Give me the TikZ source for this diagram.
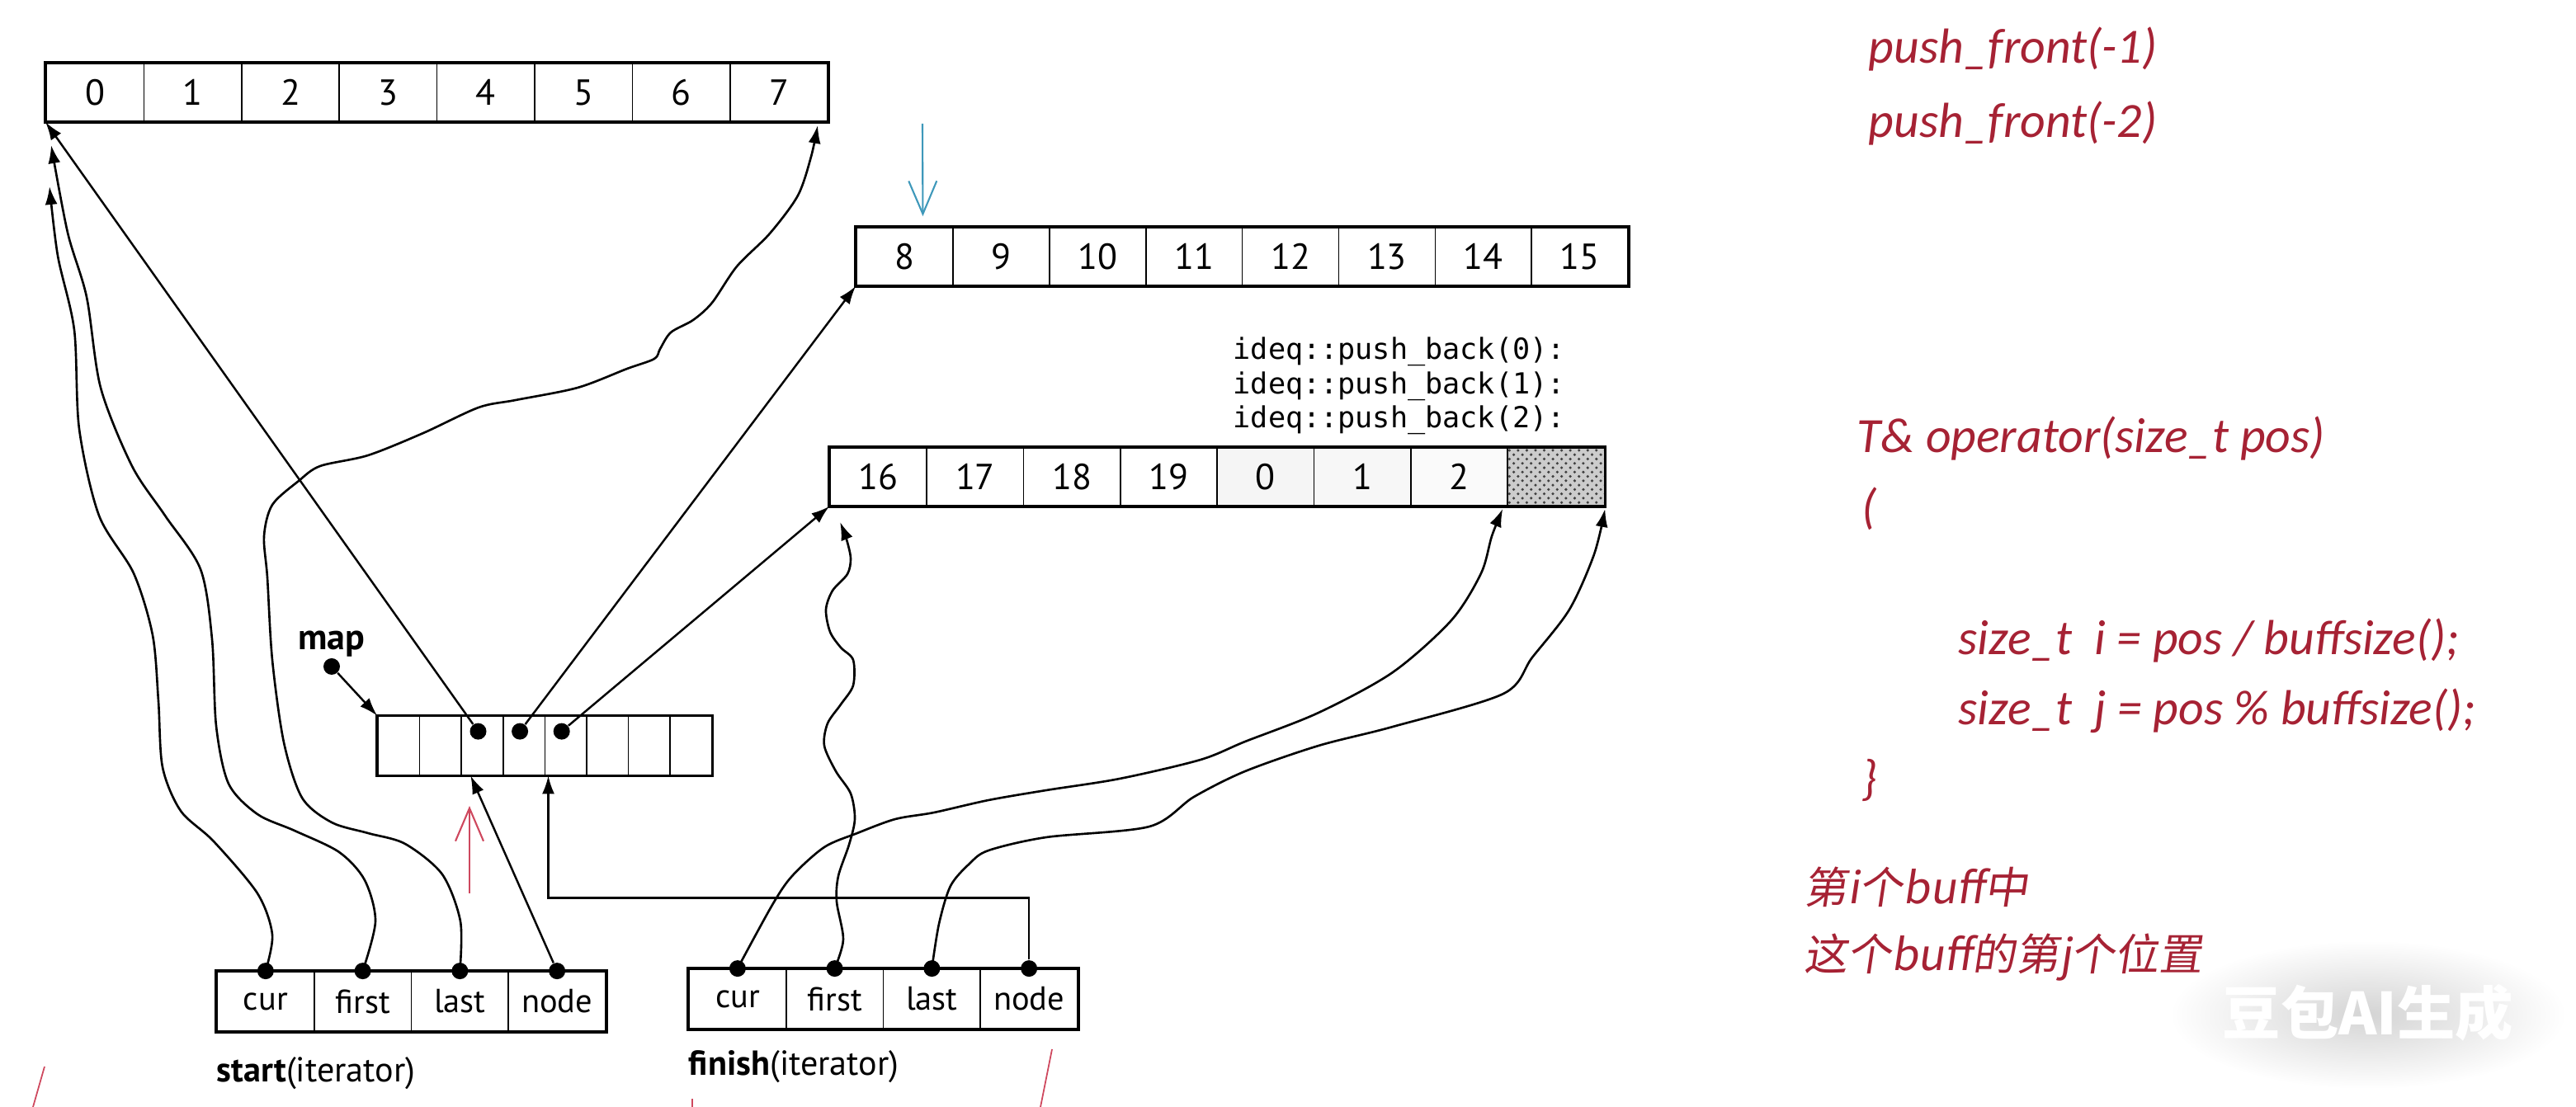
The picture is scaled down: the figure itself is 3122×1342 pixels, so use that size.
\documentclass[tikz,border=0pt]{standalone}
\usepackage{fontspec}
\setmainfont{PT Sans}
\setmonofont{DejaVu Sans Mono}
\newfontfamily\notefont{Carlito}
\newfontfamily\cjk{Noto Sans CJK SC}[FakeSlant=0.15]
\newfontfamily\markfont{Noto Sans CJK SC}
\usepackage{xcolor}
\definecolor{notered}{RGB}{166,34,52}
\definecolor{markred}{RGB}{206,72,94}
\definecolor{noteblue}{RGB}{62,152,186}
\usetikzlibrary{arrows.meta, positioning, patterns}

\begin{document}
\begin{tikzpicture}[x=0.1mm, y=-0.1mm,
	>={Latex[length=2.2mm,width=1.5mm]},
	cell/.style={draw, line width=0.5pt, minimum height=7mm, inner sep=0pt, font=\fontsize{12.5}{14}\selectfont},
	slot/.style={draw, line width=0.5pt, minimum width=5.06mm, minimum height=7.1mm, inner sep=0pt},
	field/.style={draw, line width=0.5pt, minimum width=11.78mm, minimum height=7.2mm, inner sep=0pt, font=\fontsize{11.5}{13}\selectfont},
	frame/.style={line width=1pt},
	dot/.style={circle, fill, inner sep=0pt, minimum size=2mm},
	link/.style={->, line width=0.7pt},
	wave/.style={->, line width=0.75pt, smooth, tension=0.5},
	hand/.style={line width=0.6pt, -{Straight Barb[length=4mm,width=3.4mm]}},
	note/.style={text=notered, font=\notefont\itshape\fontsize{17}{20}\selectfont, anchor=west, inner sep=0pt},
	cjknote/.style={text=notered, font=\cjk\fontsize{15}{18}\selectfont, anchor=west, inner sep=0pt},
	code/.style={font=\ttfamily\fontsize{10}{11.8}\selectfont, align=left, inner sep=0pt},
]

\useasboundingbox (0,0) rectangle (3122,1342);

% buffers
\foreach \n [count=\i from 0] in {0,...,7}
	\node[cell, minimum width=11.84mm] (a\i) at ({56+118.4*(\i+0.5)},112) {\n};
\foreach \n [count=\i from 0] in {8,...,15}
	\node[cell, minimum width=11.69mm] (b\i) at ({1038+116.9*(\i+0.5)},311) {\n};
\foreach \n/\tone [count=\i from 0] in {16/white, 17/white, 18/white, 19/white, 0/gray!8, 1/gray!6, 2/gray!4}
	\node[cell, minimum width=11.73mm, fill=\tone] (c\i) at ({1006+117.3*(\i+0.5)},578) {\n};
\node[cell, minimum width=11.73mm, fill=gray!40, postaction={pattern=crosshatch dots, pattern color=black!75}] (c7) at ({1006+117.3*7.5},578) {}; % unused slot

\draw[frame] (a0.north west) rectangle (a7.south east);
\draw[frame] (b0.north west) rectangle (b7.south east);
\draw[frame] (c0.north west) rectangle (c7.south east);

\node[code, anchor=west] (pushback) at (1494,468) {ideq::push\_back(0):\\ideq::push\_back(1):\\ideq::push\_back(2):};

% map
\foreach \i in {0,...,7}
	\node[slot] (m\i) at ({458+50.6*(\i+0.5)},904) {};
\draw[frame] (m0.north west) rectangle (m7.south east);
\foreach \i in {2,3,4}
	\node[dot] (md\i) at ([xshift=-0.5mm,yshift=-1.9mm]m\i.north) {};

\node[dot] (mapdot) at (402,808) {};
\node[above=0pt of mapdot, inner sep=0pt, font=\bfseries\fontsize{12.5}{14}\selectfont] (maplabel) {map};
\draw[link] (mapdot) -- (m0.north west);

% iterators
\foreach \f [count=\i from 0] in {cur,first,last,node} {
	\node[field] (s\f) at ({263+117.75*(\i+0.5)},1214) {\f};
	\node[field] (f\f) at ({835+117.75*(\i+0.5)},1211) {\f};
}
\draw[frame] (scur.north west) rectangle (snode.south east);
\draw[frame] (fcur.north west) rectangle (fnode.south east);
\foreach \f in {cur,first,last,node} {
	\node[dot] (s\f-dot) at (s\f.north) {};
	\node[dot] (f\f-dot) at (f\f.north) {};
}

\node[below=3mm of scur.south west, anchor=north west, inner sep=0pt, font=\fontsize{12}{14}\selectfont] (startlabel) {\textbf{start}(iterator)};
\node[below=2.5mm of fcur.south west, anchor=north west, inner sep=0pt, font=\fontsize{12}{14}\selectfont] (finishlabel) {\textbf{finish}(iterator)};

% map -> buffers
\draw[link] (md2) -- (a0.south west);
\draw[link] (md3) -- (b0.south west);
\draw[link] (md4) -- (c0.south west);

% node -> map
\draw[link] (snode-dot) -- ([xshift=1.2mm]m2.south west);
\draw[link] (fnode-dot.north) -- ++(0,-75) -| ([xshift=0.5mm]m4.south west);

% start: cur, first, last
\coordinate (scur-end) at (60,226);
\coordinate (sfirst-end) at (62,176);
\coordinate (slast-end) at ([xshift=-1.3mm,yshift=-0.4mm]a7.south east);
\draw[wave] plot coordinates {(scur-dot) (330,1133) (312,1083) (259,1020) (219,983) (197,930) (192,850) (185,770) (162,695) (120,625) (96,520) (90,400) (70,310) (scur-end)};
\draw[wave] plot coordinates {(sfirst-dot) (455,1117) (442,1067) (411,1033) (357,1007) (312,987) (277,950) (262,880) (257,775) (243,690) (200,625) (160,565) (122,470) (105,360) (82,282) (sfirst-end)};
\draw[wave] plot coordinates {(slast-dot) (558,1117) (536,1060) (491,1023) (446,1010) (402,997) (366,967) (344,900) (330,800) (324,700) (320,650) (330,612) (362,583) (388,565) (446,552) (513,525) (580,494) (625,485) (700,470) (760,447) (793,435) (800,423) (813,403) (840,388) (863,367) (893,323) (933,283) (967,237) (983,190) (slast-end)};

% finish: cur, first, last
\coordinate (fcur-end) at ([xshift=-0.5mm,yshift=-0.3mm]c7.south west);
\coordinate (ffirst-end) at ([xshift=1.3mm,yshift=-1.9mm]c0.south west);
\coordinate (flast-end) at ([yshift=-0.3mm]c7.south east);
\draw[wave] plot coordinates {(fcur-dot) (936,1097) (960,1062) (999,1027) (1039,1010) (1085,993) (1132,985) (1198,970) (1268,958) (1357,944) (1455,921) (1509,899) (1598,864) (1688,815) (1759,752) (1795,695) (1808,650) (fcur-end)};
\draw[wave] plot coordinates {(ffirst-dot) (1022,1139) (1014,1093) (1016,1062) (1029,1024) (1036,993) (1031,962) (1013,935) (999,904) (1003,877) (1019,854) (1034,831) (1034,800) (1019,785) (1006,766) (1001,739) (1009,716) (1027,696) (1031,677) (1026,654) (ffirst-end)};
\draw[wave] plot coordinates {(flast-dot) (1138,1120) (1152,1074) (1175,1047) (1198,1031) (1268,1015) (1393,1002) (1447,966) (1509,935) (1598,904) (1688,881) (1822,841) (1857,797) (1902,739) (1932,672) (flast-end)};

% hand marks
\coordinate (bluetail) at (1118,150);
\draw[hand, noteblue] (bluetail) -- ([xshift=2.2mm,yshift=1.3mm]b0.north);
\coordinate (redtail) at (569,1083);
\coordinate (redtip) at (569,977);
\draw[hand, markred] (redtail) -- (redtip);
\draw[markred, line width=0.5pt] (54,1293) -- (40,1342);
\draw[markred, line width=0.5pt] (839,1332) -- (839,1342);
\draw[markred, line width=0.5pt] (1275,1272) -- (1261,1342);

% notes
\node[note] (pf1) at (2264,60) {push\_front(-1)};
\node[note] (pf2) at (2264,150) {push\_front(-2)};
\node[note] (opsig) at (2250,532) {T\& operator(size\_t pos)};
\node[note] (opopen) at (2256,617) {(};
\node[note] (idxi) at (2373,776) {size\_t\ \ i = pos / buffsize();};
\node[note] (idxj) at (2373,862) {size\_t\ \ j = pos \% buffsize();};
\node[note] (opclose) at (2256,946) {\}};
\node[cjknote] (hinti) at (2186,1075) {第i个buff中};
\node[cjknote] (hintj) at (2186,1161) {这个buff的第j个位置};

% watermark
\shade[inner color=black!17, outer color=white] (2870,1230) ellipse [x radius=24mm, y radius=9mm];
\node[text=white, font=\markfont\bfseries\fontsize{20}{22}\selectfont] (wm) at (2870,1228) {豆包AI生成};

\end{tikzpicture}
\end{document}
